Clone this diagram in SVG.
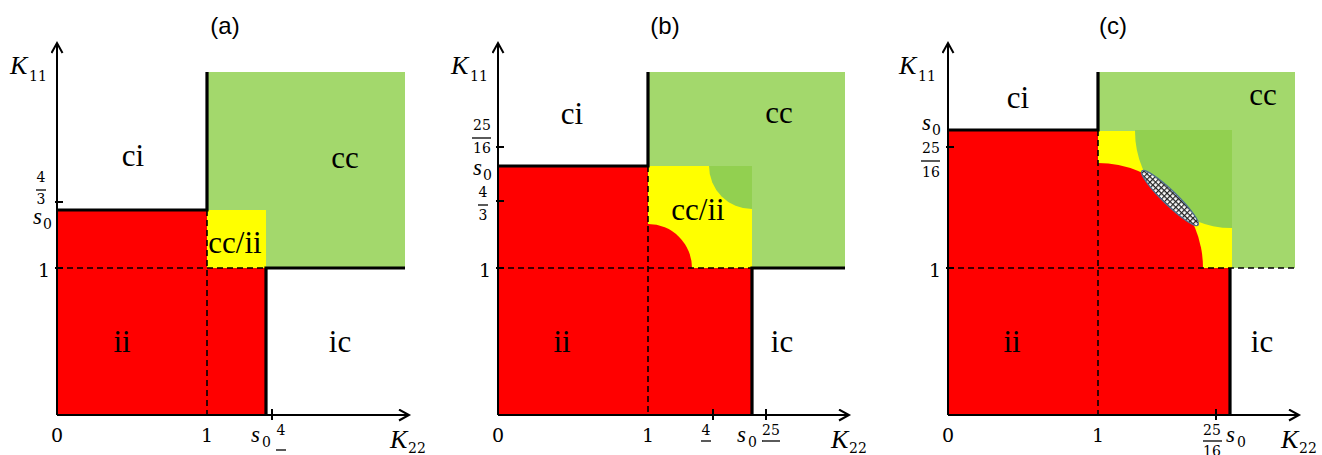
<svg xmlns="http://www.w3.org/2000/svg" width="1322" height="455" viewBox="0 0 1322 455">
<style>
.t{font-family:"Liberation Sans",Arial,sans-serif;font-size:24px;text-anchor:middle;fill:#000}
.r{font-family:"Liberation Serif","Times New Roman",serif;font-size:31px;text-anchor:middle;fill:#000}
.m{font-family:"DejaVu Serif","Liberation Serif",serif;font-size:19px;fill:#000}
.mi{font-family:"Liberation Serif","Times New Roman",serif;font-style:italic;font-size:26px;fill:#000}
.si{font-family:"Liberation Serif","Times New Roman",serif;font-style:italic;font-size:23px;fill:#000}
.sb{font-family:"DejaVu Serif","Liberation Serif",serif;font-size:14px;fill:#000}
.fr{font-family:"DejaVu Serif","Liberation Serif",serif;font-size:14px;text-anchor:middle;fill:#000}
.ax{stroke:#000;stroke-width:2;fill:none}
.th{stroke:#000;stroke-width:3.2;fill:none}
.da{stroke:#000;stroke-width:1.6;stroke-dasharray:6,4;fill:none}
.tk{stroke:#000;stroke-width:2;fill:none}
.bar{stroke:#000;stroke-width:1.3}
.red{fill:#FF0000}
.grn{fill:#A3D86C}
.dg{fill:#92D050}
.yel{fill:#FFFF00}
</style>
<defs>
<marker id="arr" markerUnits="userSpaceOnUse" markerWidth="14" markerHeight="14" refX="11" refY="6" orient="auto">
<path d="M1,0.5 L11,6 L1,11.5" fill="none" stroke="#000" stroke-width="2"/>
</marker>
<pattern id="hatch" patternUnits="userSpaceOnUse" width="4" height="4">
<rect width="4" height="4" fill="#fff"/>
<path d="M0,0.5 H4 M0.5,0 V4" stroke="#222" stroke-width="1.4"/>
</pattern>
<clipPath id="sqc"><rect x="1098" y="130" width="134" height="138"/></clipPath>
<clipPath id="sqb"><rect x="648" y="166" width="104" height="102"/></clipPath>
</defs>

<!-- Panel (a) -->
<g id="panel-a">
<text class="t" x="225" y="34">(a)</text>
<rect class="red" x="57" y="210" width="209" height="205"/>
<rect class="grn" x="207" y="72" width="198" height="196"/>
<rect class="yel" x="207" y="210" width="59" height="58"/>
<path class="da" d="M57,268 H266 M207,210 V415"/>
<path class="th" d="M207,72 V210 H57 M266,415 V268 H405"/>
<path class="ax" d="M57,415 V43" marker-end="url(#arr)"/>
<path class="ax" d="M57,415 H409" marker-end="url(#arr)"/>
<path class="tk" d="M55,202 H63 M55,268 H63 M272,409 V420"/>
<text class="mi" x="10" y="74">K</text><text class="sb" x="29" y="81">11</text>
<text class="fr" x="41" y="182">4</text><line class="bar" x1="36" y1="190" x2="46" y2="190"/><text class="fr" x="41" y="204">3</text>
<text class="si" x="33" y="224">s</text><text class="sb" x="43" y="229">0</text>
<text class="m" x="38" y="277">1</text>
<text class="m" x="51" y="442">0</text>
<text class="m" x="201" y="442">1</text>
<text class="si" x="251" y="442">s</text><text class="sb" x="262" y="447">0</text>
<text class="fr" x="281" y="435">4</text><line class="bar" x1="276" y1="450" x2="286" y2="450"/>
<text class="mi" x="390" y="448">K</text><text class="sb" x="408" y="453">22</text>
<text class="r" x="133" y="166">ci</text>
<text class="r" x="345" y="168">cc</text>
<text class="r" x="235" y="253">cc/ii</text>
<text class="r" x="122" y="352">ii</text>
<text class="r" x="340" y="352">ic</text>
</g>

<!-- Panel (b) -->
<g id="panel-b">
<text class="t" x="665" y="34">(b)</text>
<rect class="red" x="498" y="166" width="254" height="249"/>
<rect class="grn" x="648" y="72" width="197" height="196"/>
<rect class="yel" x="648" y="166" width="104" height="102"/>
<g clip-path="url(#sqb)">
<circle class="dg" cx="752" cy="166" r="43"/>
<circle class="red" cx="648" cy="268" r="44"/>
</g>
<path class="da" d="M498,268 H752 M648,166 V415"/>
<path class="th" d="M648,72 V166 H498 M752,415 V268 H845"/>
<path class="ax" d="M498,415 V43" marker-end="url(#arr)"/>
<path class="ax" d="M498,415 H849" marker-end="url(#arr)"/>
<path class="tk" d="M496,147 H504 M496,201 H504 M496,268 H504 M713,409 V420 M766,409 V420"/>
<text class="mi" x="451" y="74">K</text><text class="sb" x="470" y="81">11</text>
<text class="fr" x="482" y="130">25</text><line class="bar" x1="472" y1="138" x2="491" y2="138"/><text class="fr" x="482" y="153">16</text>
<text class="si" x="473" y="175">s</text><text class="sb" x="483" y="180">0</text>
<text class="fr" x="483" y="197">4</text><line class="bar" x1="478" y1="205" x2="488" y2="205"/><text class="fr" x="483" y="220">3</text>
<text class="m" x="479" y="277">1</text>
<text class="m" x="492" y="442">0</text>
<text class="m" x="642" y="442">1</text>
<text class="fr" x="706" y="435">4</text><line class="bar" x1="701" y1="441" x2="711" y2="441"/>
<text class="si" x="737" y="442">s</text><text class="sb" x="748" y="447">0</text>
<text class="fr" x="771" y="435">25</text><line class="bar" x1="762" y1="441" x2="780" y2="441"/>
<text class="mi" x="831" y="448">K</text><text class="sb" x="849" y="453">22</text>
<text class="r" x="572" y="124">ci</text>
<text class="r" x="779" y="123">cc</text>
<text class="r" x="698" y="220">cc/ii</text>
<text class="r" x="562" y="352">ii</text>
<text class="r" x="782" y="352">ic</text>
</g>

<!-- Panel (c) -->
<g id="panel-c">
<text class="t" x="1113" y="34">(c)</text>
<rect class="red" x="948" y="130" width="282" height="285"/>
<rect class="grn" x="1098" y="72" width="197" height="196"/>
<rect class="yel" x="1098" y="131" width="134" height="137"/>
<g clip-path="url(#sqc)">
<circle class="dg" cx="1232" cy="131" r="97"/>
<circle class="red" cx="1098" cy="268" r="105"/>
</g>
<ellipse cx="1170" cy="198" rx="39" ry="7" transform="rotate(44 1170 198)" fill="url(#hatch)" stroke="#4F6F8F" stroke-width="1.3"/>
<path class="da" d="M948,268 H1295 M1098,130 V415"/>
<path class="th" d="M1098,72 V130 H948 M1230,415 V268"/>
<path class="ax" d="M948,415 V43" marker-end="url(#arr)"/>
<path class="ax" d="M948,415 H1299" marker-end="url(#arr)"/>
<path class="tk" d="M946,147 H954 M946,268 H954 M1216,409 V420"/>
<text class="mi" x="899" y="74">K</text><text class="sb" x="918" y="81">11</text>
<text class="si" x="922" y="130">s</text><text class="sb" x="932" y="135">0</text>
<text class="fr" x="931" y="153">25</text><line class="bar" x1="921" y1="161" x2="940" y2="161"/><text class="fr" x="931" y="177">16</text>
<text class="m" x="929" y="277">1</text>
<text class="m" x="942" y="442">0</text>
<text class="m" x="1092" y="442">1</text>
<text class="fr" x="1212" y="435">25</text><line class="bar" x1="1203" y1="441" x2="1222" y2="441"/><text class="fr" x="1212" y="456">16</text>
<text class="si" x="1226" y="442">s</text><text class="sb" x="1237" y="447">0</text>
<text class="mi" x="1281" y="448">K</text><text class="sb" x="1299" y="453">22</text>
<text class="r" x="1018" y="108">ci</text>
<text class="r" x="1263" y="105">cc</text>
<text class="r" x="1012" y="352">ii</text>
<text class="r" x="1262" y="352">ic</text>
</g>
</svg>
